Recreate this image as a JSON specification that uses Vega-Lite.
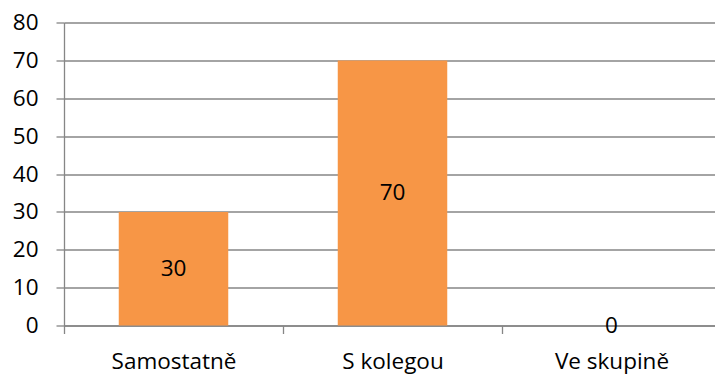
{
  "$schema": "https://vega.github.io/schema/vega-lite/v6.json",
  "autosize": "none",
  "width": 657,
  "height": 303,
  "padding": {"left": 64, "top": 22.5, "right": 0, "bottom": 50},
  "background": "white",
  "config": {
    "view": {"stroke": null},
    "font": "Open Sans"
  },
  "data": {
    "values": [
      {"kategorie": "Samostatně", "hodnota": 30},
      {"kategorie": "S kolegou", "hodnota": 70},
      {"kategorie": "Ve skupině", "hodnota": 0}
    ]
  },
  "encoding": {
    "x": {
      "field": "kategorie",
      "type": "nominal",
      "sort": null,
      "scale": {"paddingInner": 0.5, "paddingOuter": 0.25},
      "axis": {
        "title": null,
        "labelAngle": 0,
        "labelFont": "Open Sans",
        "labelFontSize": 22.5,
        "labelColor": "#000000",
        "labelPadding": 17,
        "labelOffset": 109.5,
        "tickOffset": -109.5,
        "tickBand": "center",
        "domainColor": "#868686",
        "domainWidth": 1.3,
        "tickColor": "#868686",
        "tickWidth": 1.3,
        "tickSize": 8,
        "grid": false
      }
    }
  },
  "layer": [
    {
      "mark": {"type": "bar", "color": "#F79646"},
      "encoding": {
        "y": {
          "field": "hodnota",
          "type": "quantitative",
          "scale": {"domain": [0, 80], "nice": false},
          "axis": {
            "title": null,
            "values": [0, 10, 20, 30, 40, 50, 60, 70, 80],
            "labelOverlap": false,
            "labelFont": "Open Sans",
            "labelFontSize": 22.5,
            "labelColor": "#000000",
            "labelPadding": 18,
            "gridColor": "#868686",
            "gridWidth": 1.3,
            "domainColor": "#868686",
            "domainWidth": 1.3,
            "tickColor": "#868686",
            "tickWidth": 1.3,
            "tickSize": 8
          }
        }
      }
    },
    {
      "mark": {"type": "text", "font": "Open Sans", "fontSize": 22.5, "color": "#000000", "baseline": "middle", "align": "center"},
      "encoding": {
        "y": {
          "field": "hodnota",
          "type": "quantitative",
          "scale": {"domain": [0, 160], "nice": false},
          "axis": null
        },
        "text": {"field": "hodnota", "type": "quantitative"}
      }
    }
  ],
  "resolve": {"scale": {"y": "independent"}}
}
